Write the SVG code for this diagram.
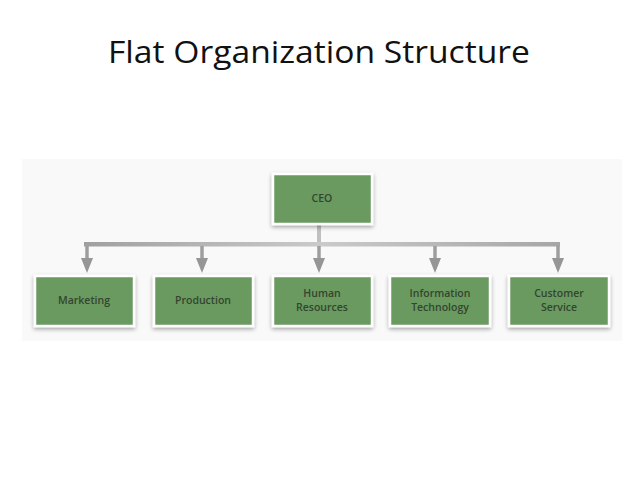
<svg xmlns="http://www.w3.org/2000/svg" width="638" height="479" viewBox="0 0 638 479">
  <defs>
    <filter id="sh" x="-20%" y="-20%" width="140%" height="150%">
      <feGaussianBlur in="SourceAlpha" stdDeviation="2.2"/>
      <feOffset dx="0" dy="2" result="b"/>
      <feComponentTransfer><feFuncA type="linear" slope="0.35"/></feComponentTransfer>
      <feMerge><feMergeNode/><feMergeNode in="SourceGraphic"/></feMerge>
    </filter>
    <linearGradient id="bar" gradientUnits="userSpaceOnUse" x1="84" y1="0" x2="560" y2="0">
      <stop offset="0" stop-color="#a0a0a0"/>
      <stop offset="0.5" stop-color="#cacaca"/>
      <stop offset="1" stop-color="#a6a6a6"/>
    </linearGradient>
    <style>
      .box { fill: #6b9a61; stroke: #ffffff; stroke-width: 2.5; filter: url(#sh); }
      .lbl { font-family: "Open Sans", "Liberation Sans", sans-serif; font-size: 10.5px; font-weight: 600; fill: #34452f; text-anchor: middle; }
      .stem { stroke: #9e9e9e; stroke-width: 3.5; fill: none; }
      .head { fill: #969696; }
      .title { font-family: "Open Sans", "Liberation Sans", sans-serif; font-size: 31px; fill: #111111; text-anchor: middle; }
    </style>
  </defs>
  <rect width="638" height="479" fill="#ffffff"/>
  <rect x="22" y="159" width="600" height="182" fill="#f9f9f9"/>
  <text class="title" x="319" y="63" textLength="422" lengthAdjust="spacingAndGlyphs">Flat Organization Structure</text>

  <g id="connectors">
    <line x1="319" y1="224" x2="319" y2="246" stroke="#c0c0c0" stroke-width="4"/>
    <rect x="84" y="242" width="476" height="4.5" fill="url(#bar)"/>
    <line class="stem" x1="87" y1="246" x2="87" y2="260"/>
    <polygon class="head" points="81,258 93,258 87,273"/>
    <line class="stem" x1="202" y1="246" x2="202" y2="260"/>
    <polygon class="head" points="196,258 208,258 202,273"/>
    <line class="stem" x1="319" y1="246" x2="319" y2="260"/>
    <polygon class="head" points="313,258 325,258 319,273"/>
    <line class="stem" x1="435" y1="246" x2="435" y2="260"/>
    <polygon class="head" points="429,258 441,258 435,273"/>
    <line class="stem" x1="558" y1="246" x2="558" y2="260"/>
    <polygon class="head" points="552,258 564,258 558,273"/>
  </g>

  <g id="ceo">
    <rect class="box" x="273" y="174" width="99" height="50"/>
    <text class="lbl" x="322" y="202">CEO</text>
  </g>
  <g id="marketing">
    <rect class="box" x="35" y="276" width="99" height="50"/>
    <text class="lbl" x="84" y="304">Marketing</text>
  </g>
  <g id="production">
    <rect class="box" x="154" y="276" width="99" height="50"/>
    <text class="lbl" x="203" y="304">Production</text>
  </g>
  <g id="human-resources">
    <rect class="box" x="273" y="276" width="99" height="50"/>
    <text class="lbl" x="322" y="297">Human</text>
    <text class="lbl" x="322" y="311">Resources</text>
  </g>
  <g id="information-technology">
    <rect class="box" x="390" y="276" width="100" height="50"/>
    <text class="lbl" x="440" y="297">Information</text>
    <text class="lbl" x="440" y="311">Technology</text>
  </g>
  <g id="customer-service">
    <rect class="box" x="509" y="276" width="100" height="50"/>
    <text class="lbl" x="559" y="297">Customer</text>
    <text class="lbl" x="559" y="311">Service</text>
  </g>
</svg>
